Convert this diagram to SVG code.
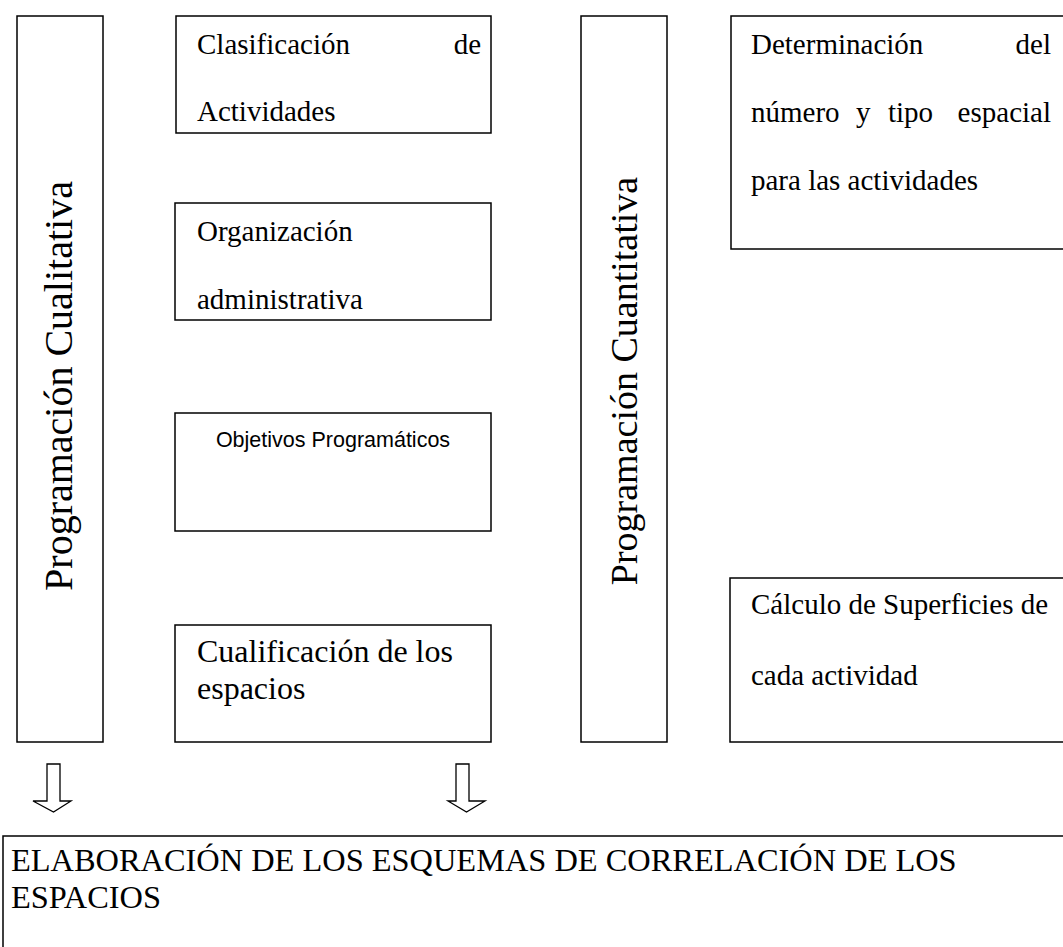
<svg xmlns="http://www.w3.org/2000/svg" width="1063" height="947" viewBox="0 0 1063 947">
<style>
.box{fill:#fff;stroke:#000;stroke-width:1.5}
.t{font-family:"Liberation Serif","Times New Roman",serif;font-size:29px;fill:#000}
.big{font-family:"Liberation Serif","Times New Roman",serif;font-size:32px;fill:#000}
.v{font-family:"Liberation Serif","Times New Roman",serif;font-size:40px;fill:#000}
.s{font-family:"Liberation Sans",Arial,sans-serif;font-size:21.5px;fill:#000}
.arr{fill:#fff;stroke:#000;stroke-width:1.3}
</style>
<rect width="1063" height="947" fill="#fff"/>
<g id="cualitativa">
<rect class="box" x="17" y="16" width="86" height="726"/>
<text class="v" transform="translate(72,386) rotate(-90)" text-anchor="middle">Programación Cualitativa</text>
</g>
<g id="clasificacion">
<rect class="box" x="176" y="16" width="315" height="117"/>
<text class="t" x="197" y="54">Clasificación</text>
<text class="t" x="481" y="54" text-anchor="end">de</text>
<text class="t" x="197" y="121">Actividades</text>
</g>
<g id="organizacion">
<rect class="box" x="175" y="203" width="316" height="117"/>
<text class="t" x="197" y="241">Organización</text>
<text class="t" x="197" y="309">administrativa</text>
</g>
<g id="objetivos">
<rect class="box" x="175" y="413" width="316" height="118"/>
<text class="s" x="333" y="447" text-anchor="middle">Objetivos Programáticos</text>
</g>
<g id="cualificacion">
<rect class="box" x="175" y="625" width="316" height="117"/>
<text class="big" x="197" y="662">Cualificación de los</text>
<text class="big" x="197" y="699">espacios</text>
</g>
<g id="cuantitativa">
<rect class="box" x="581" y="16" width="86" height="726"/>
<text class="v" style="font-size:38px" transform="translate(637,381) rotate(-90)" text-anchor="middle">Programación Cuantitativa</text>
</g>
<g id="determinacion">
<rect class="box" x="731" y="16" width="340" height="233"/>
<text class="t" x="751" y="54">Determinación</text>
<text class="t" x="1051" y="54" text-anchor="end">del</text>
<text class="t" x="751" y="122">número</text>
<text class="t" x="856" y="122">y</text>
<text class="t" x="888" y="122">tipo</text>
<text class="t" x="1051" y="122" text-anchor="end">espacial</text>
<text class="t" x="751" y="190">para las actividades</text>
</g>
<g id="calculo">
<rect class="box" x="730" y="578" width="340" height="164"/>
<text class="t" x="751" y="614">Cálculo de Superficies de</text>
<text class="t" x="751" y="685">cada actividad</text>
</g>
<g id="elaboracion">
<rect class="box" x="3" y="836" width="1070" height="120"/>
<text class="big" style="font-size:32.4px" x="11" y="871">ELABORACIÓN DE LOS ESQUEMAS DE CORRELACIÓN DE LOS</text>
<text class="big" style="font-size:32.4px" x="11" y="908">ESPACIOS</text>
</g>
<g id="connectors">
<path class="arr" d="M47,764 H60 V801 H71 L53.5,812 L33,801 H47 Z"/>
<path class="arr" d="M456,764 H469 V801 H485 L466.5,812 L448,801 H456 Z"/>
</g>
</svg>
